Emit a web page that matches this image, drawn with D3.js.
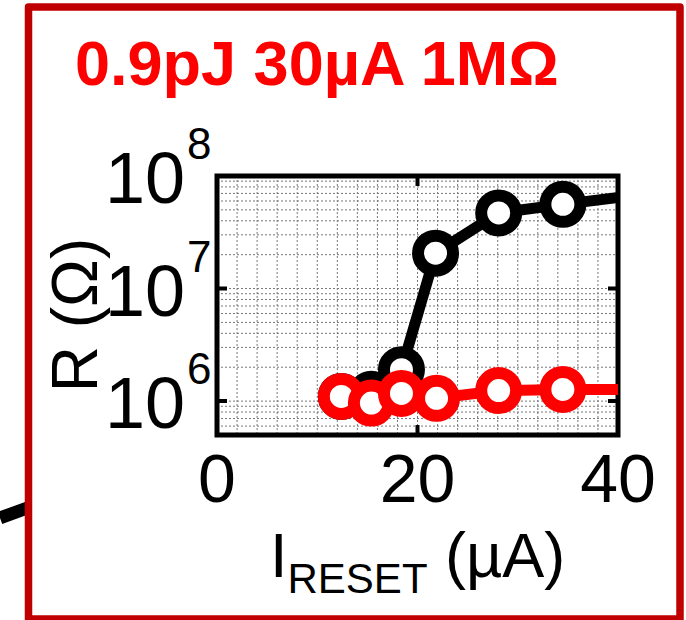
<!DOCTYPE html>
<html>
<head>
<meta charset="utf-8">
<script src="https://cdn.jsdelivr.net/npm/d3@7"></script>
<style>
  body { margin: 0; background: #fff; }
  svg { display: block; font-family: 'Liberation Sans', Arial, sans-serif; }
</style>
</head>
<body>
<svg width="686" height="620"></svg>
<script>
// data (I in uA, R in ohm)
const blackI = [12.4, 15.4, 18.4, 21.8, 28.1, 34.5, 41];
const blackR = [1.1e6, 1.15e6, 1.9e6, 2.06e7, 4.7e7, 5.6e7, 6.6e7];
const redI = [12.4, 15.4, 18.4, 21.9, 28.1, 34.5, 41];
const redR = [1.1e6, 0.96e6, 1.17e6, 1.06e6, 1.24e6, 1.27e6, 1.27e6];
const xTicks = [0, 20, 40];
const yTicks = [1e6, 1e7, 1e8];
const titleText = '0.9pJ 30\u00b5A 1M\u03a9';

const svg = d3.select('svg');

const x = d3.scaleLinear().domain([0, 40]).range([217, 618]);
const y = d3.scaleLog().domain([5e5, 1e8]).range([435, 176]);

// fragment of the neighbouring figure, left of the frame
svg.append('line')
  .attr('x1', 0).attr('y1', 518)
  .attr('x2', 30).attr('y2', 507)
  .style('stroke', '#000')
  .style('stroke-width', 13);

// red frame
svg.append('rect')
  .attr('x', 28.5).attr('y', 7)
  .attr('width', 651.5).attr('height', 612)
  .style('fill', '#fff')
  .style('stroke', '#c00000')
  .style('stroke-width', 7.5)
  .style('stroke-linejoin', 'round');

svg.append('text')
  .attr('x', 75).attr('y', 85)
  .style('font-size', '63px')
  .style('font-weight', 'bold')
  .style('fill', '#ff0000')
  .text(titleText);

svg.append('clipPath').attr('id', 'plotclip')
  .append('rect')
  .attr('x', 217).attr('y', 176)
  .attr('width', 401).attr('height', 259);

// dotted grid
const grid = svg.append('g')
  .style('stroke', '#777')
  .style('stroke-width', 1)
  .style('stroke-dasharray', '2,2');

grid.selectAll('.vg')
  .data(d3.range(2, 40, 2))
  .enter()
  .append('line')
  .attr('x1', (d) => x(d)).attr('x2', (d) => x(d))
  .attr('y1', 176).attr('y2', 435);

const minorR = [];
[5, 6, 7].forEach((k) => {
  d3.range(1, 10).forEach((m) => {
    const v = m * Math.pow(10, k);
    if (v > 5e5 && v < 1e8) minorR.push(v);
  });
});

grid.selectAll('.hg')
  .data(minorR)
  .enter()
  .append('line')
  .attr('y1', (d) => y(d)).attr('y2', (d) => y(d))
  .attr('x1', 217).attr('x2', 618);

// axis box and ticks
svg.append('rect')
  .attr('x', 217).attr('y', 176)
  .attr('width', 401).attr('height', 259)
  .style('fill', 'none')
  .style('stroke', '#000')
  .style('stroke-width', 5);

const ticks = svg.append('g').style('stroke', '#000').style('stroke-width', 4);
ticks.selectAll('.xt')
  .data([20])
  .enter()
  .append('path')
  .attr('d', (d) => `M${x(d)},435v-10M${x(d)},176v10`);
ticks.selectAll('.yt')
  .data([1e6, 1e7])
  .enter()
  .append('path')
  .attr('d', (d) => `M217,${y(d)}h10M618,${y(d)}h-10`);

// series: black first, red on top
const line = d3.line().x((d) => x(d[0])).y((d) => y(d[1]));

const series = [
  { color: '#000', pts: d3.zip(blackI, blackR) },
  { color: '#ff0000', pts: d3.zip(redI, redR) },
];

series.forEach((s) => {
  svg.append('path')
    .datum(s.pts)
    .attr('clip-path', 'url(#plotclip)')
    .attr('d', line)
    .style('fill', 'none')
    .style('stroke', s.color)
    .style('stroke-width', 11)
    .style('stroke-linejoin', 'round');

  svg.selectAll(null)
    .data(s.pts.filter((d) => d[0] <= 40))
    .enter()
    .append('circle')
    .attr('cx', (d) => x(d[0]))
    .attr('cy', (d) => y(d[1]))
    .attr('r', 17.5)
    .style('fill', '#fff')
    .style('stroke', s.color)
    .style('stroke-width', 12);
});

// tick labels
svg.selectAll('.xl')
  .data(xTicks)
  .enter()
  .append('text')
  .attr('x', (d) => x(d))
  .attr('y', 502)
  .attr('text-anchor', 'middle')
  .style('font-size', '68px')
  .text((d) => d);

svg.selectAll('.yl')
  .data(yTicks)
  .enter()
  .append('text')
  .attr('x', 185)
  .attr('y', (d) => y(d) + 27)
  .attr('text-anchor', 'end')
  .style('font-size', '72px')
  .text('10');

svg.selectAll('.ye')
  .data(yTicks)
  .enter()
  .append('text')
  .attr('x', 187)
  .attr('y', (d) => y(d) - 17)
  .style('font-size', '44px')
  .text((d) => Math.round(Math.log10(d)));

// axis labels
const xlab = svg.append('text')
  .attr('x', 270).attr('y', 577)
  .style('font-size', '63px');
xlab.append('tspan').text('I');
xlab.append('tspan').attr('dy', 16).style('font-size', '42px').text('RESET');
xlab.append('tspan').attr('dy', -16).text(' (\u00b5A)');

svg.append('text')
  .attr('transform', 'translate(97,315) rotate(-90)')
  .attr('text-anchor', 'middle')
  .style('font-size', '64px')
  .text('R (\u03a9)');
</script>
</body>
</html>
